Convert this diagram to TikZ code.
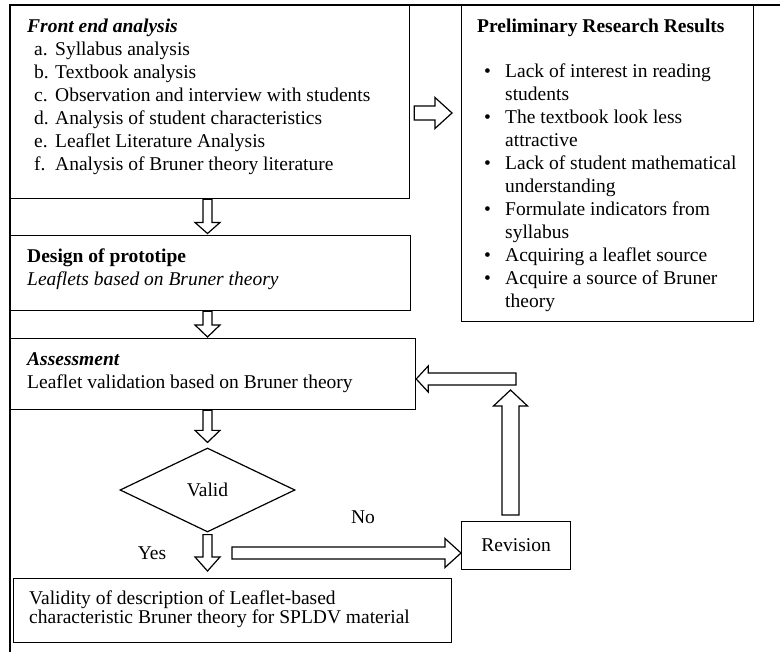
\documentclass[tikz,border=0pt]{standalone}
\usepackage{fontspec}
\setmainfont{Liberation Serif}
\usetikzlibrary{calc,shapes.geometric}
\tikzset{
  lw/.style={line width=1.2pt},
  box/.style={draw, lw, rectangle, inner sep=0pt, anchor=north west, font=\fontsize{19.5}{23}\selectfont},
  txt/.style={anchor=base west, inner sep=0pt, font=\fontsize{19.5}{23}\selectfont},
  ctxt/.style={anchor=base, inner sep=0pt, font=\fontsize{19.5}{23}\selectfont},
  barrow/.style={draw, lw, fill=white, line join=miter},
  decision/.style={draw, lw, diamond, inner sep=0pt, minimum width=175pt, minimum height=84pt, font=\fontsize{19.5}{23}\selectfont},
}
\newcommand{\bigarrow}[5]{%
  \path coordinate (bas) at (#1) coordinate (bat) at (#2);
  \path coordinate (bab) at ($(bat)!#5!(bas)$);
  \draw[barrow] ($(bas)!#3!90:(bat)$) -- ($(bab)!#3!-90:(bas)$) -- ($(bab)!#4!-90:(bas)$) -- (bat) -- ($(bab)!#4!90:(bas)$) -- ($(bab)!#3!90:(bas)$) -- ($(bas)!#3!-90:(bat)$) -- cycle;
}
\begin{document}
\begin{tikzpicture}[x=1pt,y=-1pt]
\useasboundingbox (0,0) rectangle (780,652);
% outer frame
\draw[lw] (10,652) -- (10,5) -- (780,5);

% boxes
\node[box, minimum width=399pt, minimum height=193pt] (front) at (10,5) {};
\node[box, minimum width=292pt, minimum height=316pt] (prelim) at (461,5) {};
\node[box, minimum width=400pt, minimum height=75pt] (design) at (10,235) {};
\node[box, minimum width=405pt, minimum height=71pt] (assess) at (10,338) {};
\node[decision] (valid) at (207.5,490) {Valid};
\node[box, minimum width=109pt, minimum height=48pt] (revision) at (461,521) {Revision};
\node[box, minimum width=438pt, minimum height=64pt] (final) at (13,578) {};

% texts: front end analysis
\node[txt, font=\fontsize{19.5}{23}\selectfont\bfseries\itshape] (fe0) at (27,33) {Front end analysis};
\foreach \lab/\t [count=\i] in {a./Syllabus analysis, b./Textbook analysis, c./Observation and interview with students, d./Analysis of student characteristics, e./Leaflet Literature Analysis, f./Analysis of Bruner theory literature}
  \node[txt] (fe\i) at (34,{33+23*\i}) {\makebox[21pt][l]{\lab}\t};

% preliminary research results
\node[txt, font=\fontsize{19.5}{23}\selectfont\bfseries] (pr0) at (477,33) {Preliminary Research Results};
\foreach \b/\t [count=\i] in {1/Lack of interest in reading, 0/students, 1/The textbook look less, 0/attractive, 1/Lack of student mathematical, 0/understanding, 1/Formulate indicators from, 0/syllabus, 1/Acquiring a leaflet source, 1/Acquire a source of Bruner, 0/theory}
{
  \node[txt] (pr\i) at (505,{54.5+23*\i}) {\t};
  \ifnum\b=1 \node[ctxt] (bu\i) at (487.5,{54.5+23*\i}) {•}; \fi
}

% design
\node[txt, font=\fontsize{19.5}{23}\selectfont\bfseries] (de1) at (27,262.7) {Design of prototipe};
\node[txt, font=\fontsize{19.5}{23}\selectfont\itshape] (de2) at (27,285.7) {Leaflets based on Bruner theory};
% assessment
\node[txt, font=\fontsize{19.5}{23}\selectfont\bfseries\itshape] (as1) at (27,365.5) {Assessment};
\node[txt] (as2) at (27,388.5) {Leaflet validation based on Bruner theory};
% final
\node[txt] (fi1) at (29,604) {Validity of description of Leaflet-based};
\node[txt] (fi2) at (29,623) {characteristic Bruner theory for SPLDV material};
% labels
\node[ctxt] (yes) at (152,559.5) {Yes};
\node[ctxt] (no) at (363,523.3) {No};

% helper coordinates
\coordinate (colx) at (207.5,0);
\coordinate (rrow) at (0,113);
\coordinate (nostart) at (232,553);
\coordinate (uptip) at (510.5,390);
\coordinate (lstart) at (516,379);

% block arrows
\bigarrow{$(front.east |- rrow)+(4,0)$}{$(prelim.west |- rrow)+(-9,0)$}{7pt}{15.5pt}{17pt}
\bigarrow{front.south -| colx}{$(design.north -| colx)+(0,-1.5)$}{4.5pt}{12.5pt}{11pt}
\bigarrow{design.south -| colx}{$(assess.north -| colx)+(0,-1)$}{4.5pt}{12.5pt}{12pt}
\bigarrow{assess.south -| colx}{$(valid.north -| colx)+(0,-5)$}{4.5pt}{12.5pt}{12pt}
\bigarrow{$(valid.south -| colx)+(0,2)$}{$(final.north -| colx)+(0,-7)$}{4.5pt}{12.5pt}{14pt}
\bigarrow{nostart}{revision.west |- nostart}{6pt}{14.5pt}{16pt}
\bigarrow{$(revision.north -| uptip)+(0,-6)$}{uptip}{8.5pt}{17pt}{16pt}
\bigarrow{lstart}{assess.east |- lstart}{6pt}{13pt}{12pt}
\end{tikzpicture}
\end{document}
